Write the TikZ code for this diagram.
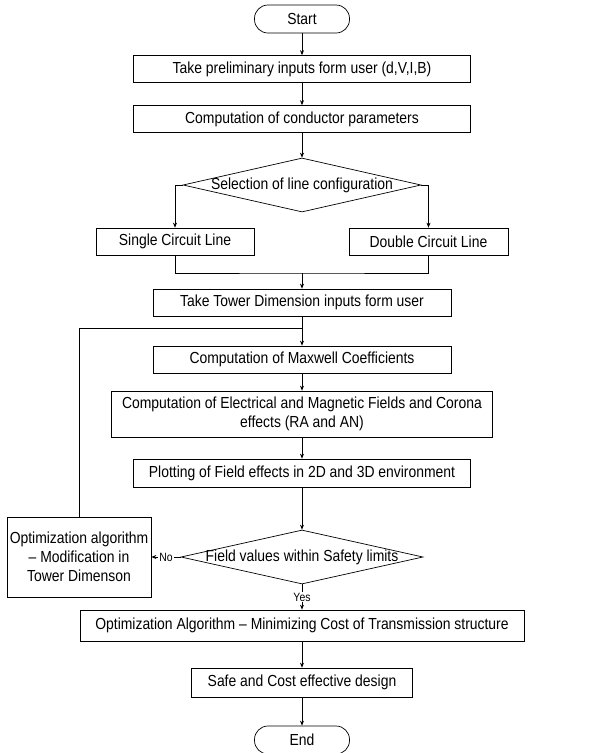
\documentclass[tikz,border=0pt]{standalone}
\usepackage{fontspec}
\setmainfont{Liberation Sans}[FakeStretch=0.87]
\usetikzlibrary{shapes.geometric,arrows.meta}
\tikzstyle{every path}=[line width=0.7pt]
\tikzstyle{every node}=[font=\fontsize{16}{19}\selectfont]
\tikzstyle{process}=[draw, rectangle, minimum height=27pt, inner sep=0pt, align=center]
\tikzstyle{terminal}=[draw, rectangle, rounded corners=13.5pt, minimum width=95pt, minimum height=28pt, inner sep=0pt]
\tikzstyle{decision}=[draw, diamond, minimum height=54pt, inner sep=0pt]
\tikzstyle{flow}=[-{Stealth[length=5pt,width=4pt]}]
\tikzstyle{answer}=[fill=white, inner sep=1pt, font=\fontsize{12}{14}\selectfont]

\begin{document}
\begin{tikzpicture}[x=1pt,y=-1pt]
    \useasboundingbox (0,0) rectangle (599,753);
    \node[terminal] (start) at (302,19) {Start};
    \node[process, minimum width=337pt] (inputs) at (302,69) {Take preliminary inputs form user (d,V,I,B)};
    \node[process, minimum width=337pt] (conductor) at (302,119) {Computation of conductor parameters};
    \node[decision, minimum width=238pt] (config) at (302,185) {\makebox[0pt]{Selection of line configuration}};
    \node[process, minimum width=158pt] (single) at (175,241.5) {Single Circuit Line};
    \node[process, minimum width=159pt] (double) at (428.5,241.5) {Double Circuit Line};
    \coordinate (merge) at (302,273);
    \node[process, minimum width=298pt] (tower) at (302,302.5) {Take Tower Dimension inputs form user};
    \coordinate (loop) at (302,328);
    \node[process, minimum width=298pt] (maxwell) at (302,359.5) {Computation of Maxwell Coefficients};
    \node[process, minimum width=381pt, minimum height=46pt] (fields) at (302,414) {Computation of Electrical and Magnetic Fields and Corona\\effects (RA and AN)};
    \node[process, minimum width=337pt, minimum height=28pt] (plotting) at (302,473) {Plotting of Field effects in 2D and 3D environment};
    \node[decision, minimum width=242pt] (safety) at (302,557) {\makebox[0pt]{Field values within Safety limits}};
    \node[process, minimum width=144pt, minimum height=80pt] (modify) at (79,557) {Optimization algorithm\\– Modification in\\Tower Dimenson};
    \node[process, minimum width=444pt, minimum height=31pt] (costopt) at (302,625.5) {Optimization Algorithm – Minimizing Cost of Transmission structure};
    \node[process, minimum width=221pt, minimum height=29pt] (design) at (302,682.5) {Safe and Cost effective design};
    \node[terminal] (stop) at (302,740) {End};

    \draw[flow] (start) -- (inputs);
    \draw[flow] (inputs) -- (conductor);
    \draw[flow] (conductor) -- (config);
    \draw[flow] (config.west) -| (single.north);
    \draw[flow] (config.east) -| (double.north);
    \draw (single.south) |- (merge) -| (double.south);
    \draw[flow] (merge) -- (tower);
    \draw[flow] (tower) -- (maxwell);
    \draw (modify.north) |- (loop);
    \draw[flow] (maxwell) -- (fields);
    \draw[flow] (fields) -- (plotting);
    \draw[flow] (plotting) -- (safety);
    \draw[flow] (safety.west) -- (modify.east) node[answer, pos=0.5] {No};
    \draw[flow] (safety) -- (costopt) node[answer, midway] {Yes};
    \draw[flow] (costopt) -- (design);
    \draw[flow] (design) -- (stop);
\end{tikzpicture}
\end{document}
